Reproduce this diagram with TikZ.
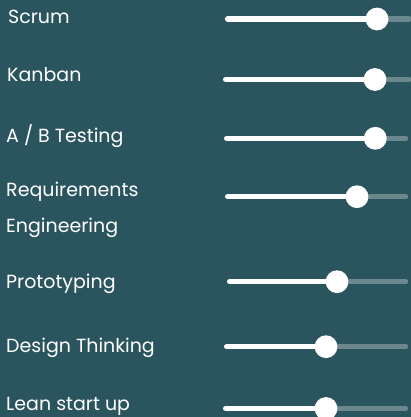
\documentclass[tikz,border=0pt]{standalone}
\usepackage{fontspec}
\setmainfont{Poppins}
\definecolor{bg}{HTML}{2B555E}
\begin{document}
\begin{tikzpicture}[x=1pt,y=-1pt,
  lbl/.style={anchor=base west,inner sep=0pt,text=white,font=\fontsize{19}{21}\selectfont},
  fillbar/.style={draw=white,line width=5.5pt,line cap=round},
  restbar/.style={draw=white,draw opacity=0.3,line width=5.5pt,line cap=round},
  knob/.style={fill=white}]
\fill[bg] (0,0) rectangle (411,417);
\useasboundingbox (0,0) rectangle (411,417);
% labels
\node[lbl] (t1) at (8,23.5) {Scrum};
\node[lbl] (t2) at (7,81.5) {Kanban};
\node[lbl] (t3) at (6,142.5) {A / B Testing};
\node[lbl] (t4a) at (6,196) {Requirements};
\node[lbl] (t4b) at (6,232) {Engineering};
\node[lbl] (t5) at (6,288) {Prototyping};
\node[lbl] (t6) at (6,352.5) {Design Thinking};
\node[lbl] (t7) at (6,410.5) {Lean start up};
% sliders: start, knob, end
\foreach \n/\xs/\y/\xk/\xe in {1/227.7/19/377/409, 2/225.7/79.5/375/409, 3/226.7/138.3/375.3/405.5, 4/227.7/196.7/357/405.5, 5/229.7/281.7/337/405.5, 6/226.7/346.7/326/405.5, 7/225.7/408.5/326/405.5}{
  \coordinate (s\n) at (\xs,\y);
  \coordinate (k\n) at (\xk,\y);
  \coordinate (e\n) at (\xe,\y);
  \draw[restbar] (k\n) -- (e\n);
  \draw[fillbar] (s\n) -- (k\n);
  \fill[knob] (k\n) circle[radius=11.4pt];
}
\end{tikzpicture}
\end{document}
